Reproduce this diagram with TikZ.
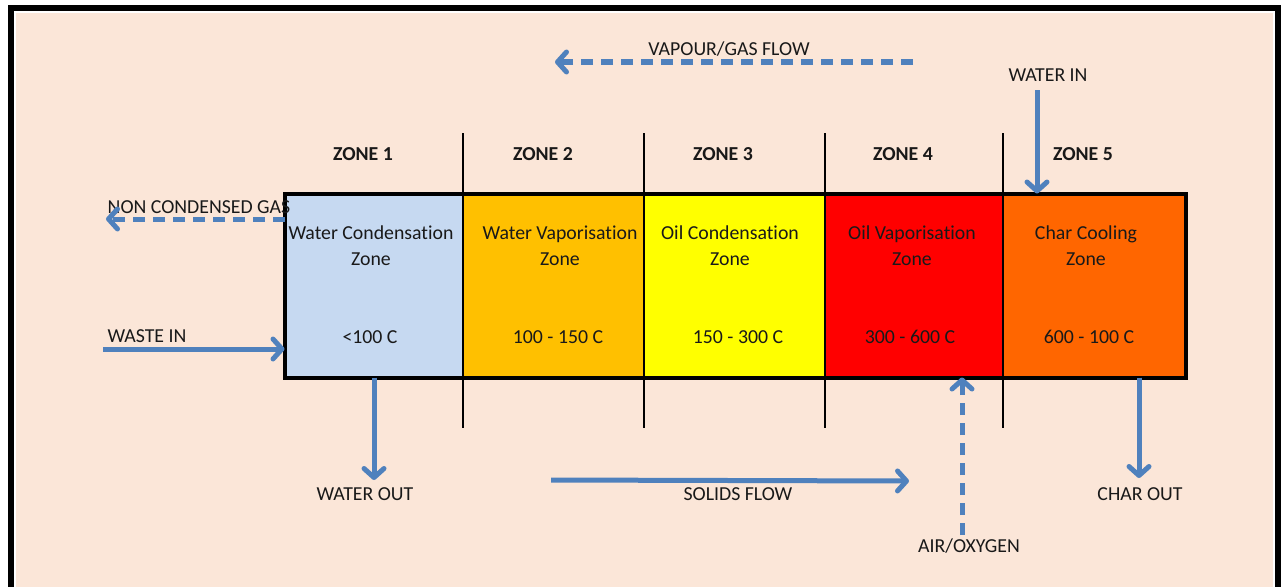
\documentclass[tikz,border=0pt]{standalone}
\usepackage{fontspec}
\setmainfont{Carlito}[Ligatures=NoCommon]
\usetikzlibrary{arrows.meta,calc}
\definecolor{peach}{HTML}{FBE6D8}
\definecolor{zblue}{HTML}{C6D9F1}
\definecolor{zamber}{HTML}{FFC000}
\definecolor{zyellow}{HTML}{FFFF00}
\definecolor{zred}{HTML}{FF0000}
\definecolor{zorange}{HTML}{FF6600}
\definecolor{flowc}{HTML}{4F81BD}
\begin{document}
\begin{tikzpicture}[x=1pt,y=-1pt,
  lbl/.style={font=\fontsize{19.8}{26}\selectfont, inner sep=0pt, text=black!90},
  zonehead/.style={lbl, font=\fontsize{19.8}{26}\selectfont\bfseries},
  zonebox/.style={draw=black, line width=1pt, minimum height=183pt, inner sep=0pt},
  zonetext/.style={lbl, align=center, font=\fontsize{19.8}{26}\selectfont},
  divider/.style={draw=black, line width=1.4pt},
  flowsolid/.style={draw=flowc, line width=5pt, -{Straight Barb[length=9pt,width=20pt,line cap=round,line join=round]}},
  flowdash/.style={flowsolid, dash pattern=on 12pt off 8pt}]
\useasboundingbox (0,0) rectangle (1281,586);
\clip (0,0) rectangle (1281,586);
% background frame
\fill[white] (0,0) rectangle (1281,586);
\fill[peach] (16,13) rectangle (1273,600);
\draw[black, line width=6pt] (11,8) rectangle (1278,620);

% zone boxes
\node[zonebox, fill=zblue,   minimum width=178pt] (z1) at (374,285.5) {};
\node[zonebox, fill=zamber,  minimum width=181pt] (z2) at (553.5,285.5) {};
\node[zonebox, fill=zyellow, minimum width=181pt] (z3) at (734.5,285.5) {};
\node[zonebox, fill=zred,    minimum width=178pt] (z4) at (914,285.5) {};
\node[zonebox, fill=zorange, minimum width=182pt] (z5) at (1094,285.5) {};
\draw[black, line width=4pt] (z1.north west) rectangle (z5.south east);

% dividers
\draw[divider] (463,133) -- (463,428);
\draw[divider] (644,133) -- (644,428);
\draw[divider] (825,133) -- (825,428);
\draw[divider] (1003,133) -- (1003,428);

% headings
\node[zonehead] (h1) at (363,154) {ZONE 1};
\node[zonehead] (h2) at (543,154) {ZONE 2};
\node[zonehead] (h3) at (723,154) {ZONE 3};
\node[zonehead] (h4) at (903,154) {ZONE 4};
\node[zonehead] (h5) at (1083,154) {ZONE 5};

% zone texts
\node[zonetext] (t1) at (371,246) {Water Condensation\\Zone};
\node[zonetext] (t2) at (560,246) {Water Vaporisation\\Zone};
\node[zonetext] (t3) at (730,246) {Oil Condensation\\Zone};
\node[zonetext] (t4) at (912,246) {Oil Vaporisation\\Zone};
\node[zonetext] (t5) at (1086,246) {Char Cooling\\Zone};
\node[lbl] (c1) at (370,337) {<100 C};
\node[lbl] (c2) at (558,337) {100 - 150 C};
\node[lbl] (c3) at (738,337) {150 - 300 C};
\node[lbl] (c4) at (910,337) {300 - 600 C};
\node[lbl] (c5) at (1089,337) {600 - 100 C};

% vapour flow
\node[lbl] (vap) at (729,49) {VAPOUR/GAS FLOW};
\coordinate (vapA) at (913,62);
\coordinate (vapB) at (555,62);
\draw[flowdash] (vapA) -- (vapB);

% water in
\node[lbl] (win) at (1048,75) {WATER IN};
\coordinate (wi) at (1037,90);
\draw[flowsolid] (wi) -- (wi |- z5.north);

% non condensed gas
\node[lbl] (ncgl) at (199,207) {NON CONDENSED GAS};
\coordinate (ncg) at (106,219);
\draw[flowdash] (ncg -| z1.west) -- (ncg);

% waste in
\node[lbl] (wstl) at (147,336) {WASTE IN};
\coordinate (wst) at (103,349);
\draw[flowsolid] (wst) -- (wst -| z1.west);

% water out
\coordinate (wo) at (374,480);
\draw[flowsolid] (wo |- z1.south) -- (wo);
\node[lbl] (wol) at (365,494) {WATER OUT};

% solids flow
\coordinate (sA) at (551,480);
\coordinate (sB) at (909,481);
\draw[flowsolid] (sA) -- (sB);
\node[lbl] (sol) at (738,494) {SOLIDS FLOW};

% air / oxygen
\coordinate (air) at (962,535);
\draw[flowdash] (air) -- (air |- z4.south);
\node[lbl] (airl) at (969,546) {AIR/OXYGEN};

% char out
\coordinate (co) at (1139,478);
\draw[flowsolid] (co |- z5.south) -- (co);
\node[lbl] (col) at (1140,494) {CHAR OUT};
\end{tikzpicture}
\end{document}
